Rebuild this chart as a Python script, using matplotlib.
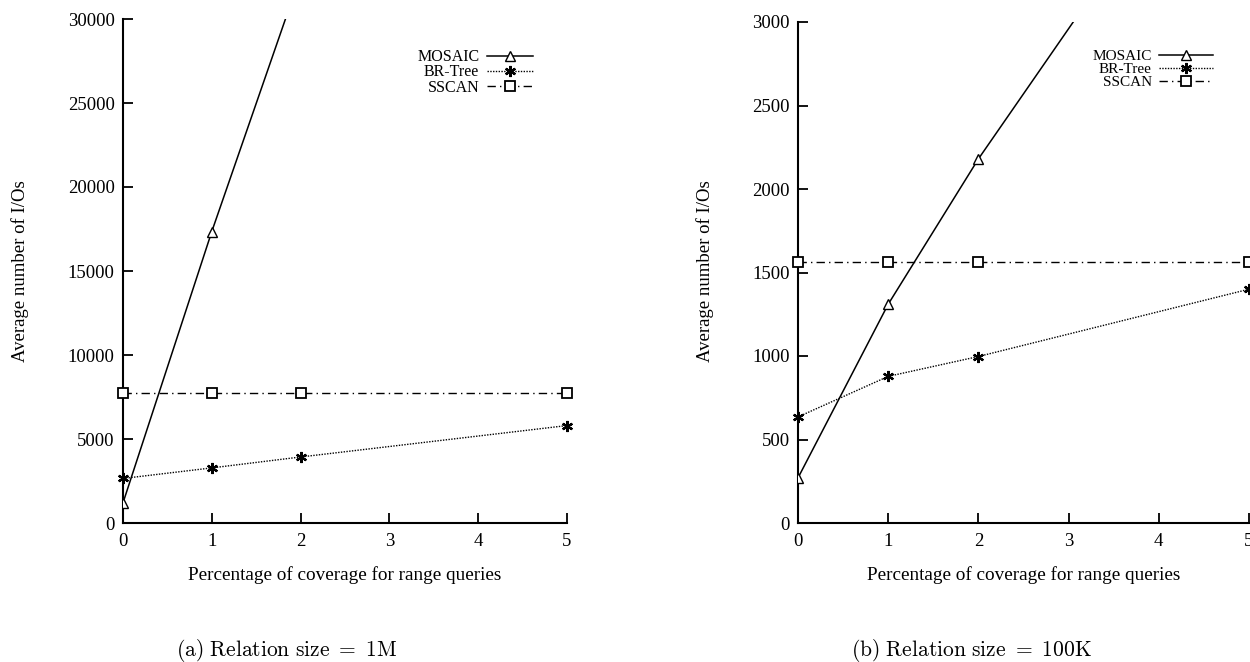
import matplotlib
matplotlib.use("Agg")
import matplotlib.pyplot as plt

plt.rcParams['font.family'] = ['Liberation Serif', 'DejaVu Serif']
plt.rcParams['mathtext.fontset'] = 'cm'

coverage = [0, 1, 2, 5]
x_ticks = [0, 1, 2, 3, 4, 5]

# (a) Relation size = 1M
mosaic_1m = [1200, 17350, 32600, 80000]
brtree_1m = [2650, 3280, 3930, 5800]
sscan_1m = [7750, 7750, 7750, 7750]
y_ticks_1m = [0, 5000, 10000, 15000, 20000, 25000, 30000]

# (b) Relation size = 100K
mosaic_100k = [270, 1310, 2180, 4520]
brtree_100k = [635, 878, 997, 1400]
sscan_100k = [1563, 1563, 1563, 1563]
y_ticks_100k = [0, 500, 1000, 1500, 2000, 2500, 3000]

labels = ["MOSAIC", "BR-Tree", "SSCAN"]
xlabel = "Percentage of coverage for range queries"
ylabel = "Average number of I/Os"
captions = [r"$\mathrm{(a)\ Relation\ size\ =\ 1M}$", r"$\mathrm{(b)\ Relation\ size\ =\ 100K}$"]

fig = plt.figure(figsize=(12.5, 6.62), dpi=100)
W, H = 1250, 662
ax1 = fig.add_axes([123 / W, (H - 523) / H, 444 / W, 504 / H])
ax2 = fig.add_axes([798 / W, (H - 523) / H, 451 / W, 501 / H])

asterisk = (6, 2, 0)

def draw(ax, mos, br, ss, yt, leg_anchor, leg_fs, hl):
    ax.plot(coverage, mos, color='black', lw=1.1, ls='-', marker='^', ms=7,
            mfc='white', mec='black', mew=1.0, label=labels[0], zorder=3)
    ax.plot(coverage, br, color='black', lw=1.0, ls=(0, (1, 1)), marker=asterisk, ms=8,
            mew=1.6, label=labels[1], clip_on=False, zorder=3)
    ax.plot(coverage, ss, color='black', lw=1.0, ls=(0, (6, 3, 1, 3)), marker='s', ms=7,
            mfc='white', mec='black', mew=1.3, label=labels[2], clip_on=False, zorder=3)
    ax.set_xlim(0, 5)
    ax.set_ylim(yt[0], yt[-1])
    ax.set_xticks(x_ticks)
    ax.set_yticks(yt)
    ax.set_xticklabels([str(v) for v in x_ticks])
    ax.set_yticklabels([str(v) for v in yt])
    for s in ['top', 'right']:
        ax.spines[s].set_visible(False)
    for s in ['left', 'bottom']:
        ax.spines[s].set_linewidth(1.5)
    ax.tick_params(direction='in', length=7, width=1.3, labelsize=13.5, pad=7)
    ax.tick_params(axis='y', pad=6)
    ax.set_xlabel(xlabel, fontsize=13.8, labelpad=12)
    leg = ax.legend(loc='upper right', bbox_to_anchor=leg_anchor, frameon=False,
                    markerfirst=False, fontsize=leg_fs, handlelength=hl, handletextpad=0.5,
                    labelspacing=-0.05, borderaxespad=0, borderpad=0)
    for t in leg.get_texts():
        t.set_ha('right')

draw(ax1, mosaic_1m, brtree_1m, sscan_1m, y_ticks_1m, (0.923, 0.94), 11.5, 2.85)
draw(ax2, mosaic_100k, brtree_100k, sscan_100k, y_ticks_100k, (0.92, 0.945), 11, 3.5)

fig.text(20 / W, 1 - 271 / H, ylabel, rotation=90, ha='center', va='center', fontsize=13.5)
fig.text(705 / W, 1 - 271 / H, ylabel, rotation=90, ha='center', va='center', fontsize=13.5)
fig.text(287 / W, 1 - 650 / H, captions[0], ha='center', va='center', fontsize=15.5)
fig.text(971 / W, 1 - 650 / H, captions[1], ha='center', va='center', fontsize=15.5)

fig.savefig("out.png", dpi=100)
